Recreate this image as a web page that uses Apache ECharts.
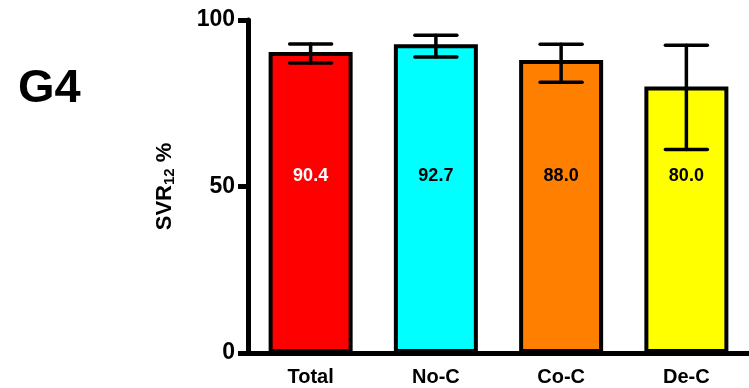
<!DOCTYPE html>
<html>
<head>
<meta charset="utf-8">
<script src="https://cdn.jsdelivr.net/npm/echarts@6/dist/echarts.min.js"></script>
<style>
html,body{margin:0;padding:0;background:#fff;}
#chart{width:749px;height:388px;}
</style>
</head>
<body>
<div id="chart"></div>
<script>
const categories = ['Total', 'No-C', 'Co-C', 'De-C'];
const values = [90.4, 92.7, 88.0, 80.0];
const errLow = [87.1, 88.9, 81.3, 61.1];
const errHigh = [92.8, 95.4, 92.7, 92.4];
const barColors = ['#ff0000', '#00ffff', '#ff8000', '#ffff00'];
const labelColors = ['#ffffff', '#000000', '#000000', '#000000'];
const labelLevel = 53.2;
const yTicks = [0, 50, 100];

const FONT = '"Liberation Sans", Arial, sans-serif';
const chart = echarts.init(document.getElementById('chart'), null, {renderer: 'canvas'});

chart.setOption({
  animation: false,
  graphic: [{
    type: 'text', left: 18, top: 66,
    style: {text: 'G4', font: 'bold 47px ' + FONT, fill: '#000'}
  }],
  grid: {left: 248, right: 0, top: 20, bottom: 35},
  xAxis: {
    type: 'category',
    data: categories,
    axisLine: {lineStyle: {color: '#000', width: 5}},
    axisTick: {alignWithLabel: true, length: 8, lineStyle: {color: '#000', width: 5}},
    axisLabel: {color: '#000', fontFamily: FONT, fontWeight: 'bold', fontSize: 20, margin: 14}
  },
  yAxis: {
    type: 'value', min: 0, max: 100, interval: 50,
    name: 'SVR{sub|12} %',
    nameLocation: 'middle', nameRotate: 90, nameGap: 71,
    nameTextStyle: {color: '#000', fontFamily: FONT, fontWeight: 'bold', fontSize: 22,
      rich: {sub: {fontFamily: FONT, fontWeight: 'bold', fontSize: 15, verticalAlign: 'bottom', padding: [9, 0, 0, 0], color: '#000'}}},
    splitLine: {show: false},
    axisLine: {show: true, lineStyle: {color: '#000', width: 5}},
    axisTick: {show: true, length: 10, lineStyle: {color: '#000', width: 5}},
    axisLabel: {color: '#000', fontFamily: FONT, fontWeight: 'bold', fontSize: 23, margin: 13,
      formatter: v => yTicks.includes(v) ? String(v) : ''}
  },
  series: [{
    type: 'bar',
    data: values.map((v, i) => ({value: v, itemStyle: {color: barColors[i]}})),
    barWidth: 84,
    itemStyle: {borderColor: '#000', borderWidth: 4},
    z: 2
  }, {
    type: 'custom',
    data: categories.map((c, i) => [i, errLow[i], errHigh[i], values[i]]),
    renderItem: function (params, api) {
      const i = api.value(0);
      const lo = api.coord([i, api.value(1)]);
      const hi = api.coord([i, api.value(2)]);
      const lab = api.coord([i, labelLevel]);
      const x = lo[0];
      const half = 21;
      const ls = {stroke: '#000', lineWidth: 3.5, lineCap: 'round'};
      return {
        type: 'group',
        children: [
          {type: 'line', shape: {x1: x, y1: lo[1], x2: x, y2: hi[1]}, style: ls},
          {type: 'line', shape: {x1: x - half, y1: lo[1], x2: x + half, y2: lo[1]}, style: ls},
          {type: 'line', shape: {x1: x - half, y1: hi[1], x2: x + half, y2: hi[1]}, style: ls},
          {type: 'text', x: x, y: lab[1],
            style: {text: api.value(3).toFixed(1), font: 'bold 18px ' + FONT,
              fill: labelColors[params.dataIndex], align: 'center', verticalAlign: 'middle'}}
        ]
      };
    },
    z: 3
  }]
});
</script>
</body>
</html>
